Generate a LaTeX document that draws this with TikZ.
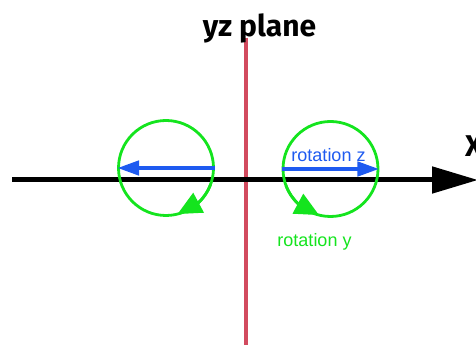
\documentclass[tikz,border=0pt]{standalone}
\usepackage{fontspec}
\setmainfont{Liberation Sans}
\newfontfamily\headfont{Fira Sans}
\usetikzlibrary{calc, positioning, arrows.meta, bending}
\definecolor{ringgreen}{RGB}{20,228,30}
\definecolor{rotblue}{RGB}{30,90,240}
\definecolor{planered}{RGB}{210,75,95}

\begin{document}
\begin{tikzpicture}[
        x=1pt, y=1pt,
        ring/.style={draw=ringgreen, circle, line width=2.8pt, minimum size=95pt, inner sep=0pt},
        zarrow/.style={-{Triangle[length=22pt, width=14pt]}, draw=rotblue, line width=4.5pt},
        yarrow/.style={-{Triangle[length=24pt, width=22pt, flex]}, draw=ringgreen, line width=2.8pt},
        xaxis/.style={-{Triangle[length=46pt, width=26pt]}, line width=5pt},
        titletext/.style={font=\headfont\bfseries\fontsize{30}{30}\selectfont},
        rotlabel/.style={font=\fontsize{18}{18}\selectfont, inner sep=0pt}
    ]
        \useasboundingbox (0,0) rectangle (476,345);

        % Plane and axis
        \coordinate (plane_top) at (245.5,307);
        \coordinate (plane_bot) at (245.5,0);
        \coordinate (axis_start) at (12,165);
        \coordinate (axis_end) at (478,165);
        \draw[planered, line width=4pt] (plane_top) -- (plane_bot);
        \draw[xaxis] (axis_start) -- (axis_end);

        % Nodes
        \node[titletext, anchor=base] (title) at (259.5,308) {yz plane};
        \node[titletext, anchor=base west, inner sep=0pt] (xlabel) at (465,188) {X};
        \node[ring] (lc) at (166,177) {};
        \node[ring] (rc) at (330.5,176) {};

        % Rotation about z
        \draw[zarrow] (lc.east) -- (lc.west);
        \draw[zarrow] (rc.west) -- (rc.east);
        \node[rotlabel, text=rotblue, anchor=base] (zlabel) at (328.5,183) {rotation z};

        % Rotation about y
        \draw[yarrow] (lc) ++(-20:47.5) arc[start angle=-20, end angle=-76, radius=47.5];
        \draw[yarrow] (rc) ++(-160:47.5) arc[start angle=-160, end angle=-104, radius=47.5];
        \node[rotlabel, text=ringgreen, anchor=base] (ylabel) at (314.5,98) {rotation y};

    \end{tikzpicture}
\end{document}
